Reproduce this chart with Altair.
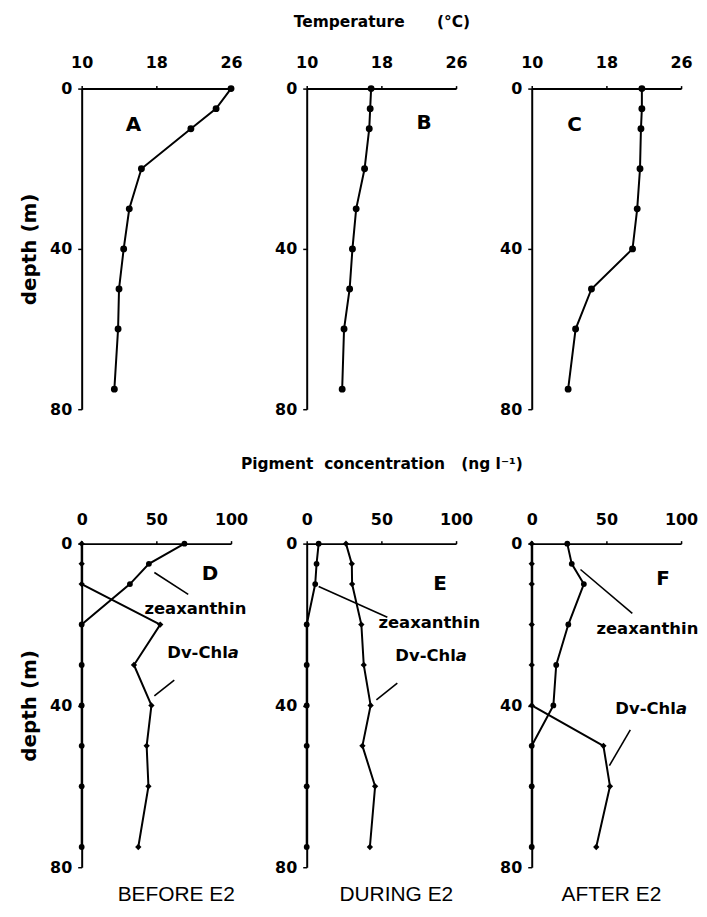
import altair as alt
import pandas as pd

# ---------------- data ----------------
depths = [0, 5, 10, 20, 30, 40, 50, 60, 75]

temp_A = [26.0, 24.4, 21.7, 16.4, 15.1, 14.5, 14.0, 13.9, 13.5]
temp_B = [16.9, 16.8, 16.7, 16.2, 15.3, 14.9, 14.6, 14.0, 13.8]
temp_C = [21.8, 21.8, 21.7, 21.6, 21.3, 20.8, 16.4, 14.7, 13.9]

zea_D = [68.8, 45.0, 32.3, 0, 0, 0, 0, 0, 0]
dv_D = [0, 0, 0, 52.6, 35.0, 46.7, 43.5, 44.7, 37.9]
zea_E = [8.0, 6.6, 5.7, 0, 0, 0, 0, 0, 0]
dv_E = [26.3, 30.2, 30.4, 36.6, 38.2, 42.8, 37.3, 45.8, 42.3]
zea_F = [23.8, 26.8, 34.9, 24.5, 16.4, 14.5, 0, 0, 0]
dv_F = [0, 0, 0, 0, 0, 0, 48.0, 52.4, 43.2]

temp_ticks = [10, 18, 26]
pig_ticks = [0, 50, 100]
depth_ticks = [0, 40, 80]

BOLD = "DejaVu Sans"
NB = "\u00a0"
one = pd.DataFrame({"k": [0]})

PWID = 150
TH = 322
PH = 325
ANN = 16.5


def text_at(txt, x, y, size=ANN, style="normal"):
    return alt.Chart(one).mark_text(
        text=txt, font=BOLD, fontWeight="bold", fontSize=size, fontStyle=style,
        align="left", baseline="middle", color="black"
    ).encode(x=alt.value(x), y=alt.value(y))


def letter_at(txt, x, y):
    return alt.Chart(one).mark_text(
        text=txt, font=BOLD, fontWeight="bold", fontSize=20,
        align="center", baseline="middle", color="black"
    ).encode(x=alt.value(x), y=alt.value(y))


def leader(x1, y1, x2, y2):
    return alt.Chart(one).mark_rule(color="black", strokeWidth=1.6).encode(
        x=alt.value(x1), x2=alt.value(x2), y=alt.value(y1), y2=alt.value(y2)
    )


def dvchla(x, y):
    return text_at("Dv-Chl", x, y) + text_at("a", x + 3.686 * ANN, y, style="italic")


def profile(vals, xscale, xaxis, yaxis, shape, size):
    df = pd.DataFrame({"depth": depths, "v": vals})
    base = alt.Chart(df).encode(
        x=alt.X("v:Q", scale=xscale, axis=xaxis),
        y=alt.Y("depth:Q", scale=alt.Scale(domain=[0, 80], reverse=True, nice=False), axis=yaxis),
        order=alt.Order("depth:Q"),
    )
    return base.mark_line(color="black", strokeWidth=2) + base.mark_point(
        shape=shape, filled=True, size=size, color="black", opacity=1
    )


def yaxis(show_title):
    return alt.Axis(values=depth_ticks, title="depth (m)" if show_title else "",
                    tickSize=4, labelPadding=6, titlePadding=10, labelFlush=False,
                    labelOverlap=False, grid=False, titleFontSize=20)


def temp_panel(vals, letter, lx, ly, show_y, title):
    xs = alt.Scale(domain=[10, 26], nice=False, zero=False)
    xa = alt.Axis(orient="top", values=temp_ticks, title=title, tickSize=3, labelPadding=15,
                  labelFlush=False, labelOverlap=False, grid=False, titlePadding=25,
                  titleFontSize=15.5)
    ch = profile(vals, xs, xa, yaxis(show_y), "circle", 48) + letter_at(letter, lx, ly)
    return ch.properties(width=PWID, height=TH)


def pig_panel(zea, dv, letter, lpos, zpos, zline, dpos, dline, show_y, title, bottom, bdx):
    xs = alt.Scale(domain=[0, 100], nice=False)
    xa = alt.Axis(orient="top", values=pig_ticks, title=title, tickSize=3, labelPadding=13,
                  labelFlush=False, labelOverlap=False, grid=False, titlePadding=40,
                  titleFontSize=15.5)
    ya = yaxis(show_y)
    ch = (
        profile(zea, xs, xa, ya, "circle", 34)
        + profile(dv, xs, xa, ya, "diamond", 40)
        + letter_at(letter, *lpos)
        + text_at("zeaxanthin", *zpos)
        + leader(*zline)
        + dvchla(*dpos)
        + leader(*dline)
    )
    return ch.properties(
        width=PWID, height=PH,
        title=alt.TitleParams(bottom, orient="bottom", anchor="middle", dx=bdx, offset=9,
                              font="Liberation Sans Narrow, Liberation Sans", fontSize=21,
                              fontWeight="normal", color="black"),
    )


A = temp_panel(temp_A, "A", 52, 37, True, "")
B = temp_panel(temp_B, "B", 118, 35, False, "Temperature" + NB * 6 + "(°C)")
C = temp_panel(temp_C, "C", 43, 37, False, "")

D = pig_panel(zea_D, dv_D, "D", (129, 31), (63, 66), (73, 29, 107, 51), (86, 110), (73, 153, 93, 137),
              True, "", "BEFORE E2", 20)
E = pig_panel(zea_E, dv_E, "E", (134, 41), (72, 80), (12, 43, 81, 74), (89, 113), (70, 157, 91, 140),
              False, "Pigment" + NB * 2 + "concentration" + NB * 3 + "(ng l⁻¹)", "DURING E2", 15)
F = pig_panel(zea_F, dv_F, "F", (132, 36), (65, 86), (49, 26, 101, 70), (84, 166), (78, 223, 99, 187),
              False, "", "AFTER E2", 5)

chart = alt.concat(
    A, B, C, D, E, F, columns=3, bounds="flush",
    spacing=alt.RowColnumber(row=135, column=76),
    padding={"left": 11, "top": 5, "right": 0, "bottom": 0},
).configure_view(
    strokeWidth=0
).configure_axis(
    domainColor="black", domainWidth=2, tickColor="black", tickWidth=1.5,
    labelColor="black", labelFont=BOLD, labelFontWeight="bold", labelFontSize=16,
    titleColor="black", titleFont=BOLD, titleFontWeight="bold",
)

chart.save("out.html", embed_options={"renderer": "svg", "actions": False})
